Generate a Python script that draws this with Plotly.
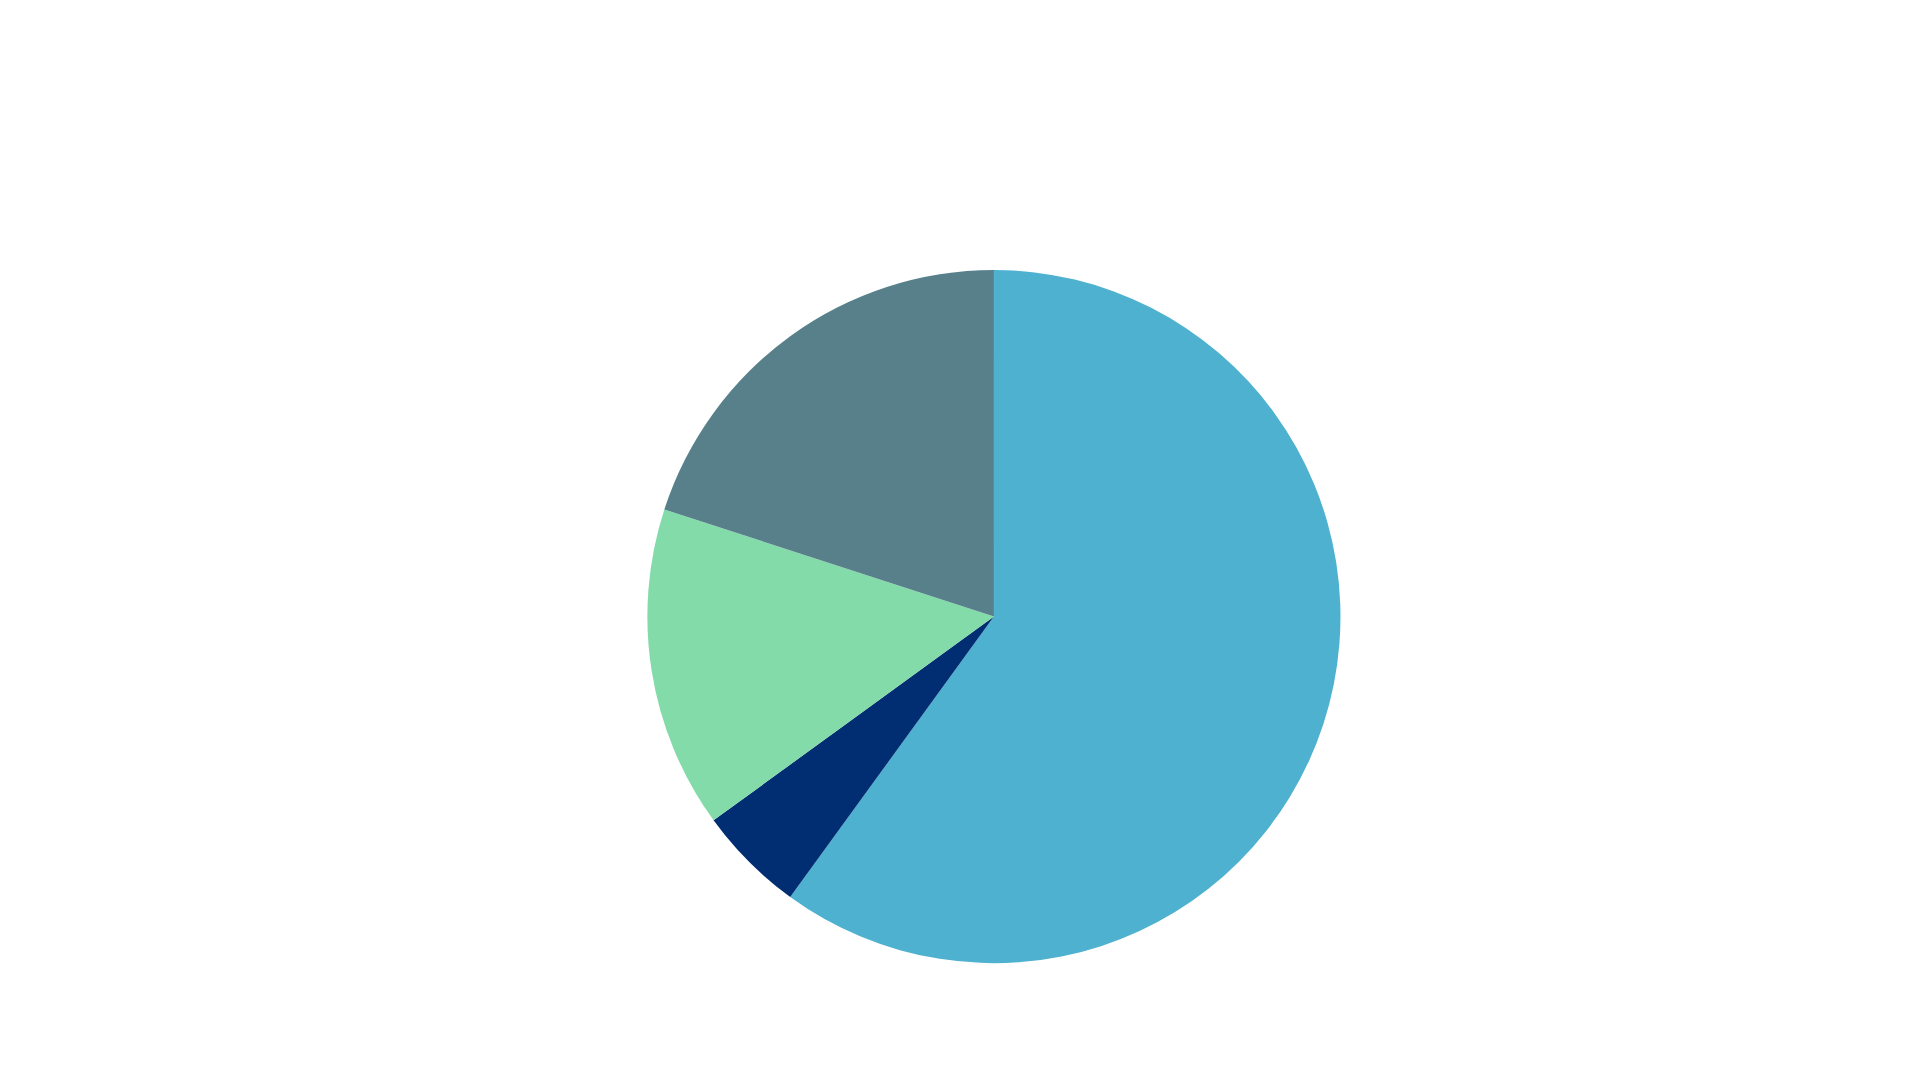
import plotly.graph_objects as go

# slice data, read clockwise from 12 o'clock
labels = ["Segment A", "Segment B", "Segment C", "Segment D"]
values = [60, 5, 15, 20]
colors = ["#4EB1CF", "#012D72", "#84DBAA", "#58808B"]

fig = go.Figure()
fig.add_trace(go.Pie(
    labels=labels,
    values=values,
    sort=False,
    direction="clockwise",
    rotation=0,
    textinfo="none",
    marker=dict(colors=colors, line=dict(width=0)),
    domain=dict(x=[0.3330, 0.6940], y=[0.1155, 0.7575]),
))

fig.update_layout(
    width=1920,
    height=1080,
    showlegend=False,
    margin=dict(l=0, r=0, t=0, b=0),
    paper_bgcolor="white",
    plot_bgcolor="white",
)

fig.write_html("out.html")
